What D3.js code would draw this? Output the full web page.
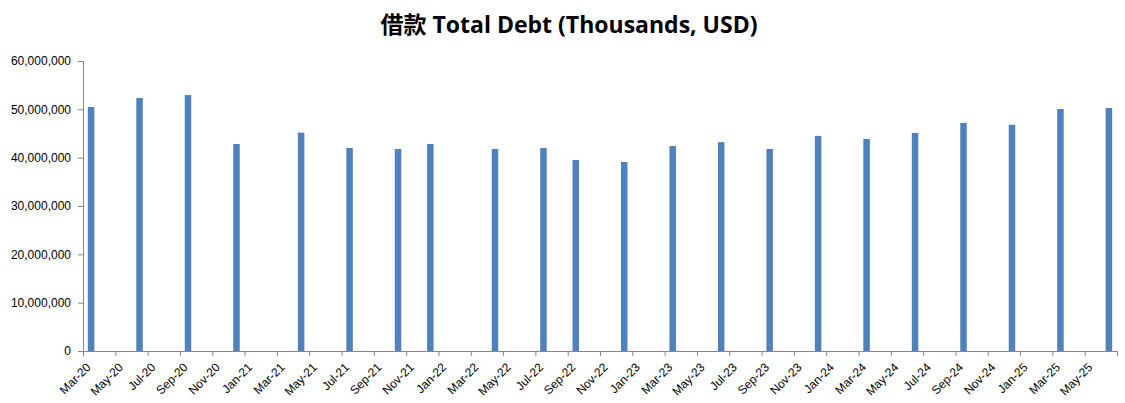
<!DOCTYPE html>
<html>
<head>
<meta charset="utf-8">
<script src="https://cdn.jsdelivr.net/npm/d3@7"></script>
<style>
	body { margin: 0; background: #fff; }
	svg { display: block; }
	.title { font-family: "Open Sans", "Noto Sans CJK SC", sans-serif; font-weight: bold; }
	.axis text { font-family: "Liberation Sans", Arial, sans-serif; font-size: 12px; fill: #000; }
	.axis path, .axis line { stroke: #868686; }
</style>
</head>
<body>
<svg id="chart" width="1125" height="403"></svg>
<script>
"use strict";

// quarter-ish reporting months and total debt (thousands USD)
var months = ["2020-03", "2020-06", "2020-09", "2020-12", "2021-04", "2021-07", "2021-10", "2021-12",
	"2022-04", "2022-07", "2022-09", "2022-12", "2023-03", "2023-06", "2023-09", "2023-12",
	"2024-03", "2024-06", "2024-09", "2024-12", "2025-03", "2025-06"];
var debt = [50480000, 52350000, 52950000, 42830000, 45170000, 42000000, 41800000, 42830000,
	41800000, 42000000, 39500000, 39100000, 42400000, 43200000, 41800000, 44500000,
	43870000, 45100000, 47200000, 46800000, 50070000, 50280000];
var yTicks = [0, 10000000, 20000000, 30000000, 40000000, 50000000, 60000000];
var startMonth = "2020-03";
var monthCount = 64; // Mar-20 .. Jun-25, one slot per month

var parseMonth = d3.timeParse("%Y-%m");
var fmtMonth = d3.timeFormat("%b-%y");

// month slot index counted from the first month
function monthIndex(str) {
	return d3.timeMonth.count(parseMonth(startMonth), parseMonth(str));
}

var svg = d3.select("#chart");
var plotL = 83, plotR = 1117, plotT = 61, plotB = 351;

var x = d3.scaleLinear().domain([0, monthCount]).range([plotL, plotR]);
var y = d3.scaleLinear().domain([0, 60000000]).range([plotB, plotT]);
var slot = x(1) - x(0);
var barW = 6.5;

svg.append("text")
	.attr("class", "title")
	.attr("x", 569)
	.attr("y", 33)
	.attr("text-anchor", "middle")
	.style("font-size", "23px")
	.text("借款 Total Debt (Thousands, USD)");

// y axis
var yaxis = d3.axisLeft(y).tickValues(yTicks).tickFormat(d3.format(",")).tickSizeOuter(0).tickSize(5).tickPadding(7);
svg.append("g")
	.attr("class", "axis")
	.attr("transform", `translate(${plotL},0)`)
	.call(yaxis);

// bars
svg.append("g").selectAll("rect")
	.data(months.map((m, i)=>[m, debt[i]]))
	.enter()
	.append("rect")
	.attr("x", d=>x(monthIndex(d[0])) + slot / 2 - barW / 2)
	.attr("width", barW)
	.attr("y", d=>y(d[1]))
	.attr("height", d=>plotB - y(d[1]))
	.attr("fill", "#4F81BD");

// x axis, tick every 2 months
var xTicks = d3.range(0, monthCount + 1, 2);
var xaxis = d3.axisBottom(x).tickValues(xTicks).tickSizeOuter(0).tickSize(5)
	.tickFormat(i=>i >= monthCount ? "" : fmtMonth(d3.timeMonth.offset(parseMonth(startMonth), i)));
var gx = svg.append("g")
	.attr("class", "axis")
	.attr("transform", `translate(0,${plotB})`)
	.call(xaxis);
gx.selectAll("text")
	.attr("text-anchor", "end")
	.attr("dy", null)
	.attr("y", 0)
	.attr("transform", "translate(8,17) rotate(-45)");
</script>
</body>
</html>
